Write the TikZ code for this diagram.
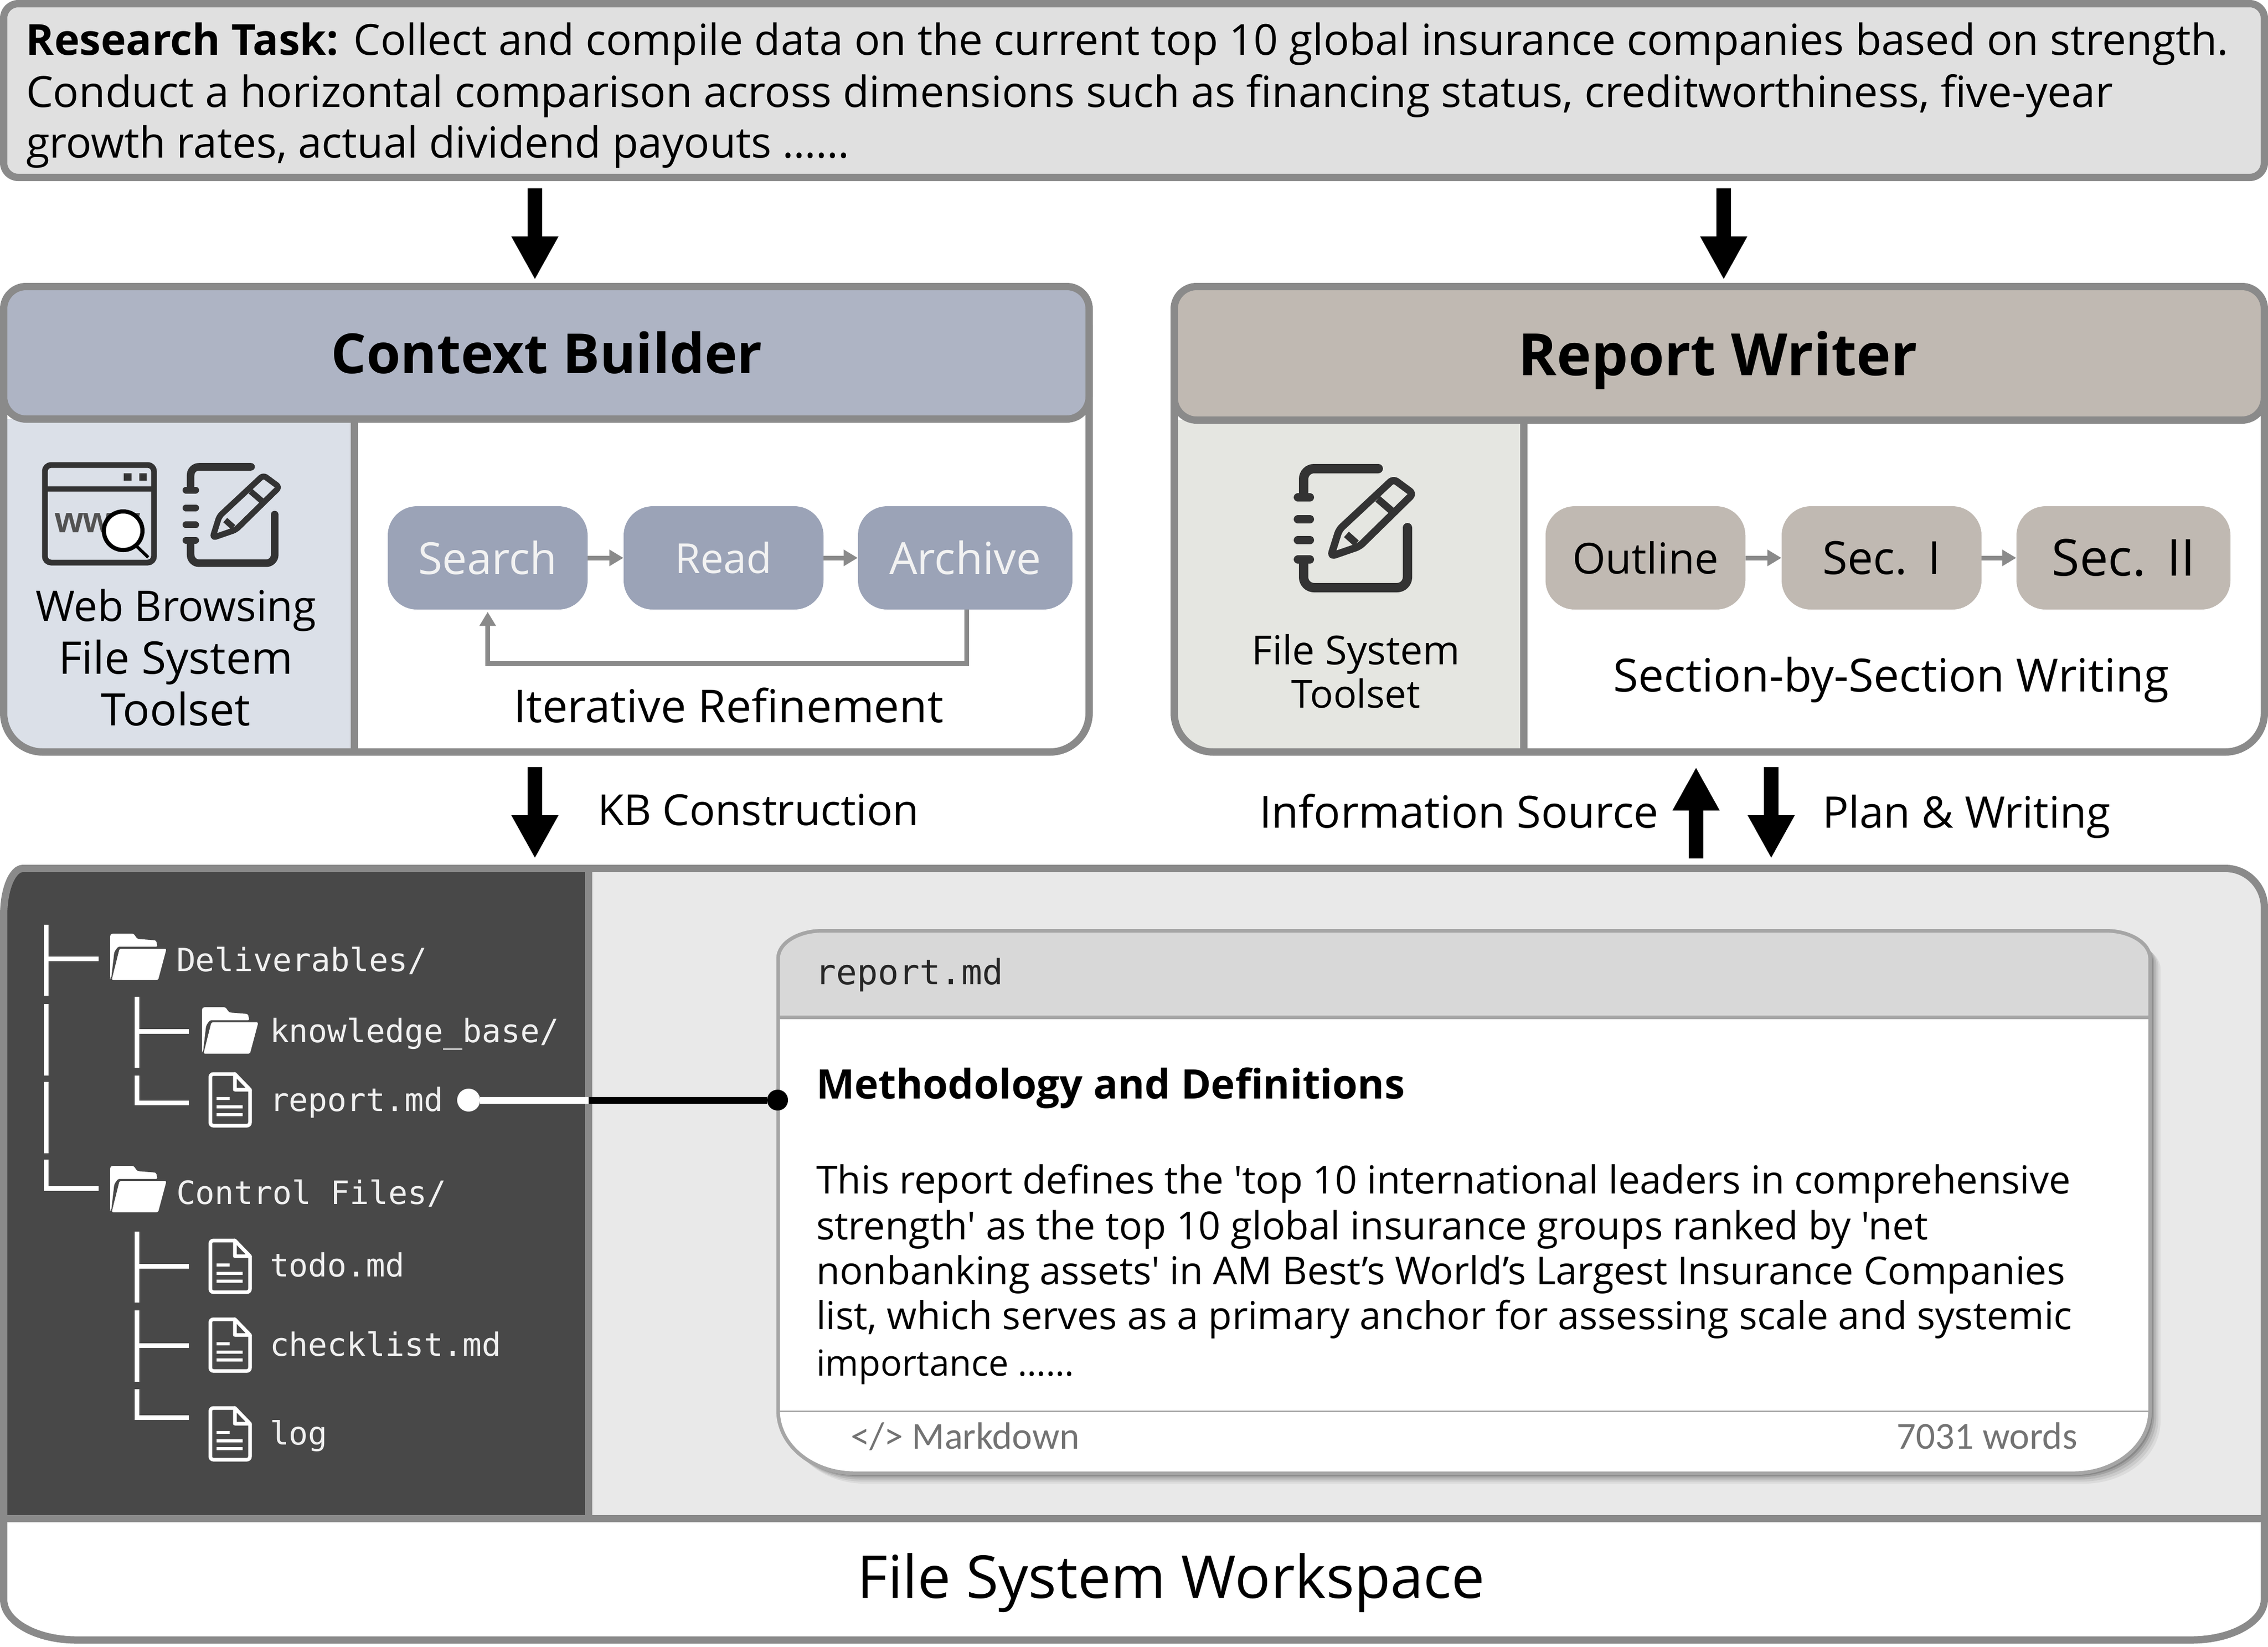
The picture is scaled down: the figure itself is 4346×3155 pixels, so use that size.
\documentclass[tikz,border=0pt]{standalone}
\usepackage{fontspec}
\usepackage{graphicx}
\usetikzlibrary{arrows.meta}
\newfontfamily\cfont{Open Sans}
\newfontfamily\mfont{DejaVu Sans Mono}
\newfontfamily\gfont{Carlito}
\newfontfamily\wfont{Liberation Sans}
\newlength{\pxu}\setlength{\pxu}{0.5pt}
\newcommand{\fw}[2]{\resizebox{#1\pxu}{!}{#2}}
\definecolor{edge}{HTML}{8A8A8A}
\definecolor{cbhead}{HTML}{AEB4C4}
\definecolor{cbside}{HTML}{DBE0E8}
\definecolor{cbstep}{HTML}{9BA3B7}
\definecolor{rwhead}{HTML}{C0B9B2}
\definecolor{rwside}{HTML}{E5E6E1}
\definecolor{icondark}{HTML}{333333}
\definecolor{wsdark}{HTML}{484848}
\definecolor{wslight}{HTML}{E9E9E9}
\definecolor{cardhead}{HTML}{D8D8D8}
\definecolor{cardedge}{HTML}{A6A6A6}
\definecolor{taskbg}{HTML}{E0E0E0}
\definecolor{treetext}{HTML}{F0F0F0}
\tikzset{
  frame/.style={draw=edge,line width=7pt},
  tl/.style={inner sep=0pt,outer sep=0pt,anchor=base west,font=\cfont\fontsize{40}{48}\selectfont,text=black},
  tc/.style={inner sep=0pt,outer sep=0pt,anchor=base,font=\cfont\fontsize{40}{48}\selectfont,text=black},
  treelabel/.style={inner sep=0pt,outer sep=0pt,anchor=base west,font=\mfont\fontsize{30.7}{36}\selectfont,text=treetext},
  treeline/.style={draw=white,line width=4.5pt},
  cbstepbox/.style={fill=cbstep,rounded corners=28pt,inner sep=0pt,minimum height=99pt,text=white!95!black,font=\cfont\fontsize{40}{48}\selectfont},
  rwstepbox/.style={fill=rwhead,rounded corners=28pt,inner sep=0pt,minimum height=99pt,text=black,font=\cfont\fontsize{40}{48}\selectfont},
  bigarrow/.style={draw=black,line width=14pt,-{Triangle[length=41.5pt,width=42pt]}},
  smallarrow/.style={draw=edge,line width=4.5pt,-{Triangle[length=13.5pt,width=15pt]}},
  dot/.style={circle,inner sep=0pt,minimum size=#1},
}
\newcommand{\foldericon}[2]{\begin{scope}[shift={(#1,#2)}]
  \fill[white,rounded corners=1.5pt] (0,3)--(3,0)--(45,0)--(52,10)--(88,13)--(91,25)--(15,25)--(8,35)--(2,86)--(0,86)--cycle;
  \fill[white,rounded corners=1.5pt] (18,29)--(108,29)--(92,89)--(3,89)--cycle;
\end{scope}}
\newcommand{\fileicon}[2]{\begin{scope}[shift={(#1,#2)}]
  \draw[white,line width=3.5pt,rounded corners=3pt] (50,3)--(3,3)--(3,102)--(79,102)--(79,33);
  \draw[white,line width=3.5pt,line join=round] (50,3)--(79,33)--(50,33)--cycle;
  \draw[white,line width=3pt] (15,50)--(40,50) (15,66)--(65,66) (15,81)--(65,81);
\end{scope}}
\newcommand{\noteicon}[3]{\begin{scope}[shift={(#1,#2)},scale=#3]
  \draw[icondark,line width=#3*9pt,rounded corners=#3*10pt,line cap=round] (163,8)--(20,8)--(20,60);
  \draw[icondark,line width=#3*9pt,rounded corners=#3*10pt,line cap=round] (20,188)--(20,236)--(219,236)--(219,121);
  \draw[icondark,line width=#3*8pt,line cap=round] (9,63)--(32,63) (9,105)--(32,105) (9,145)--(32,145) (9,182)--(32,182);
  \draw[icondark,line width=#3*7pt,line join=round,rounded corners=#3*4pt] (72,176)--(88,125)--(192,28)--(230,56)--(127,157)--cycle;
  \draw[icondark,line width=#3*7pt] (102,134)--(121,151) (162,66)--(190,90);
\end{scope}}
\def\wspath{(7,1754) .. controls (7,1704.3) and (23.6,1664) .. (44,1664) -- (4264,1664) .. controls (4305.4,1664) and (4339,1697.6) .. (4339,1739) -- (4339,3064.5) .. controls (4339,3107.6) and (4276.3,3142.5) .. (4199,3142.5) -- (147,3142.5) .. controls (69.7,3142.5) and (7,3107.6) .. (7,3064.5) -- cycle}
\def\cardpath{(1491,1836.5) .. controls (1491,1807.2) and (1529.1,1783.5) .. (1576,1783.5) -- (4035,1783.5) .. controls (4081.9,1783.5) and (4120,1807.2) .. (4120,1836.5) -- (4120,2703) .. controls (4120,2769.3) and (4054.2,2823) .. (3973,2823) -- (1638,2823) .. controls (1556.8,2823) and (1491,2769.3) .. (1491,2703) -- cycle}
\begin{document}
\begin{tikzpicture}[x=0.5pt,y=-0.5pt]
\useasboundingbox (0,0) rectangle (4346,3155);
\fill[white] (0,0) rectangle (4346,3155);

% ---------- research task
\draw[frame,fill=taskbg,rounded corners=14pt] (7,7) rectangle (4339,340);
\node[tl] (task1) at (50,105) {\fw{4220}{\textbf{Research Task:} Collect and compile data on the current top 10 global insurance companies based on strength.}};
\node[tl] (task2) at (50,205) {\fw{3999}{Conduct a horizontal comparison across dimensions such as financing status, creditworthiness, five-year}};
\node[tl] (task3) at (50,302) {\fw{1578}{growth rates, actual dividend payouts ……}};

% ---------- context builder
\fill[white,rounded corners=37.5pt] (7,549) rectangle (2087,1441);
\fill[cbside] (679,803) -- (7,803) [rounded corners=37.5pt] -- (7,1441) -- (300,1441) [sharp corners] -- (679,1441) -- cycle;
\draw[edge,line width=7pt] (679,803) -- (679,1441);
\draw[frame,rounded corners=37.5pt] (7,549) rectangle (2087,1441);
\draw[frame,fill=cbhead,rounded corners=21.5pt] (7,549) rectangle (2087,803);
\node[tc] (cbtitle) at (1048,715) {\fw{826}{\textbf{Context Builder}}};

% browser icon
\draw[icondark,line width=5.5pt,rounded corners=6pt] (86,891) rectangle (295,1078);
\draw[icondark,line width=5pt] (86,937) -- (295,937);
\fill[icondark] (237,907) rectangle (252,921) (267,907) rectangle (281,921);
\node[inner sep=0pt,anchor=base west,text=icondark!85!white,font=\wfont\bfseries\fontsize{40}{48}\selectfont] (www) at (105,1020) {\fw{163}{www}};
\draw[black,line width=3pt] (258,1043) -- (284,1068);
\draw[black,fill=white,line width=4pt] (236,1017) circle (18.5pt);
\noteicon{349}{888}{0.81}
\node[tc] (tool1) at (337,1190) {\fw{538}{Web Browsing}};
\node[tc] (tool2) at (337,1291) {\fw{449}{File System}};
\node[tc] (tool3) at (337,1390) {\fw{286}{Toolset}};

\node[cbstepbox,minimum width=191.5pt] (search) at (934.5,1069) {\fw{266}{Search}};
\node[cbstepbox,minimum width=191.5pt] (read) at (1386.5,1069) {\fw{186}{Read}};
\node[cbstepbox,minimum width=205.5pt] (archive) at (1849.5,1069) {\fw{291}{Archive}};
\draw[smallarrow] (search.east) -- (read.west);
\draw[smallarrow] (read.east) -- (archive.west);
\coordinate (loopturn) at (1852,1271);
\draw[smallarrow,shorten >=2pt] (loopturn |- archive.south) -- (loopturn) -| (search.south);
\node[tc] (iter) at (1396,1384) {\fw{824}{Iterative Refinement}};

% ---------- report writer
\fill[white,rounded corners=37.5pt] (2250,549) rectangle (4339,1441);
\fill[rwside] (2920,805) -- (2250,805) [rounded corners=37.5pt] -- (2250,1441) -- (2500,1441) [sharp corners] -- (2920,1441) -- cycle;
\draw[edge,line width=7pt] (2920,805) -- (2920,1441);
\draw[frame,rounded corners=37.5pt] (2250,549) rectangle (4339,1441);
\draw[frame,fill=rwhead,rounded corners=21.5pt] (2250,549) rectangle (4339,805);
\node[tc] (rwtitle) at (3292,719) {\fw{765}{\textbf{Report Writer}}};

\noteicon{2478}{890}{1}
\node[tc] (rtool1) at (2598,1273) {\fw{399}{File System}};
\node[tc] (rtool2) at (2598,1356) {\fw{247}{Toolset}};

\node[rwstepbox,minimum width=191.5pt] (outline) at (3153,1069) {\fw{280}{Outline}};
\node[rwstepbox,minimum width=191.5pt] (sec1) at (3605.5,1069) {\fw{227}{Sec.\ \hspace{0.2em}I}};
\node[rwstepbox,minimum width=205pt] (sec2) at (4069,1069) {\fw{275}{Sec.\ \hspace{0.15em}II}};
\draw[smallarrow] (outline.east) -- (sec1.west);
\draw[smallarrow] (sec1.east) -- (sec2.west);
\node[tc] (secwrite) at (3624,1325) {\fw{1065}{Section-by-Section Writing}};

% ---------- big arrows
\coordinate (a1s) at (1025,361); \coordinate (a1e) at (1025,536);
\coordinate (a2s) at (3303,361); \coordinate (a2e) at (3303,536);
\coordinate (a3s) at (1025,1470); \coordinate (a3e) at (1025,1645);
\coordinate (a4s) at (3250,1645); \coordinate (a4e) at (3250,1470);
\coordinate (a5s) at (3394,1470); \coordinate (a5e) at (3394,1645);
\draw[bigarrow] (a1s) -- (a1e);
\draw[bigarrow] (a2s) -- (a2e);
\draw[bigarrow] (a3s) -- (a3e);
\draw[bigarrow] (a4s) -- (a4e);
\draw[bigarrow] (a5s) -- (a5e);
\node[tl] (kblabel) at (1145,1581) {\fw{616}{KB Construction}};
\node[tl] (infolabel) at (2413,1586) {\fw{765}{Information Source}};
\node[tl] (planlabel) at (3492,1586) {\fw{552}{Plan \& Writing}};

% ---------- workspace
\fill[white] \wspath;
\begin{scope}
  \clip \wspath;
  \fill[wslight] (1128,1664) rectangle (4339,2910);
  \fill[wsdark] (7,1664) rectangle (1128,2910);
\end{scope}
\draw[edge,line width=7pt] (1128,1664) -- (1128,2910) (7,2910) -- (4339,2910);
\draw[frame] \wspath;
\node[tc] (wstitle) at (2244,3062) {\fw{1203}{File System Workspace}};

% tree
\draw[treeline] (88,1772) -- (88,1908) (88,1837) -- (189,1837);
\draw[treeline] (88,1924) -- (88,2061) (88,2073) -- (88,2210);
\draw[treeline] (88,2222) -- (88,2277) -- (189,2277);
\draw[treeline] (262,1910) -- (262,2046) (262,1976) -- (362,1976);
\draw[treeline] (262,2061) -- (262,2113) -- (362,2113);
\draw[treeline] (262,2360) -- (262,2496) (262,2426) -- (362,2426);
\draw[treeline] (262,2511) -- (262,2648) (262,2578) -- (362,2578);
\draw[treeline] (262,2662) -- (262,2716) -- (362,2716);
\foldericon{211}{1789}
\foldericon{387}{1930}
\foldericon{211}{2234}
\fileicon{400}{2055}
\fileicon{400}{2374}
\fileicon{400}{2525}
\fileicon{400}{2695}
\node[treelabel] (deliv) at (338,1861) {Deliverables/};
\node[treelabel] (kbase) at (517,1997) {knowledge\_base/};
\node[treelabel] (repmd) at (517,2129) {report.md};
\node[treelabel] (ctrl) at (338,2307) {Control Files/};
\node[treelabel] (todo) at (517,2446) {todo.md};
\node[treelabel] (check) at (517,2598) {checklist.md};
\node[treelabel] (logf) at (517,2768) {log};

% ---------- report card
\foreach \off/\op in {20/0.06,16/0.07,12/0.09,8/0.12,5/0.15}{
  \begin{scope}[shift={(\off,\off)}]
    \fill[black,opacity=\op] \cardpath;
  \end{scope}
}
\fill[white] \cardpath;
\begin{scope}
  \clip \cardpath;
  \fill[cardhead] (1491,1783.5) rectangle (4120,1949.5);
\end{scope}
\draw[cardedge,line width=3.5pt] (1491,1949.5) -- (4120,1949.5);
\draw[cardedge,line width=3.5pt] \cardpath;
\draw[cardedge,line width=1.5pt] (1491,2704) -- (4120,2704);
\node[inner sep=0pt,anchor=base west,text=black!85,font=\mfont\fontsize{40}{48}\selectfont] (cardname) at (1562,1886) {\fw{360}{report.md}};
\node[tl] (cardhd) at (1564,2105) {\fw{1128}{\textbf{Methodology and Definitions}}};
\node[tl] (body1) at (1564,2287) {\fw{2404}{This report defines the 'top 10 international leaders in comprehensive}};
\node[tl] (body2) at (1564,2375) {\fw{2130}{strength' as the top 10 global insurance groups ranked by 'net}};
\node[tl] (body3) at (1564,2461) {\fw{2393}{nonbanking assets' in AM Best’s World’s Largest Insurance Companies}};
\node[tl] (body4) at (1564,2547) {\fw{2407}{list, which serves as a primary anchor for assessing scale and systemic}};
\node[tl] (body5) at (1564,2636) {\fw{494}{importance ……}};
\node[inner sep=0pt,anchor=base west,text=black!55,font=\gfont\fontsize{40}{48}\selectfont] (mdlabel) at (1630,2776) {\fw{438}{</> Markdown}};
\node[inner sep=0pt,anchor=base east,text=black!55,font=\gfont\fontsize{40}{48}\selectfont] (wordlabel) at (3981,2776) {\fw{346}{7031 words}};

% ---------- link from tree to card
\node[dot=22pt,fill=white] (dotw) at (898,2108) {};
\node[dot=20pt,fill=black] (dotb) at (1490,2108) {};
\coordinate (linkmid) at (1128,2108);
\draw[white,line width=6.5pt] (dotw) -- (linkmid);
\draw[black,line width=6.5pt] (linkmid) -- (dotb);
\end{tikzpicture}
\end{document}
